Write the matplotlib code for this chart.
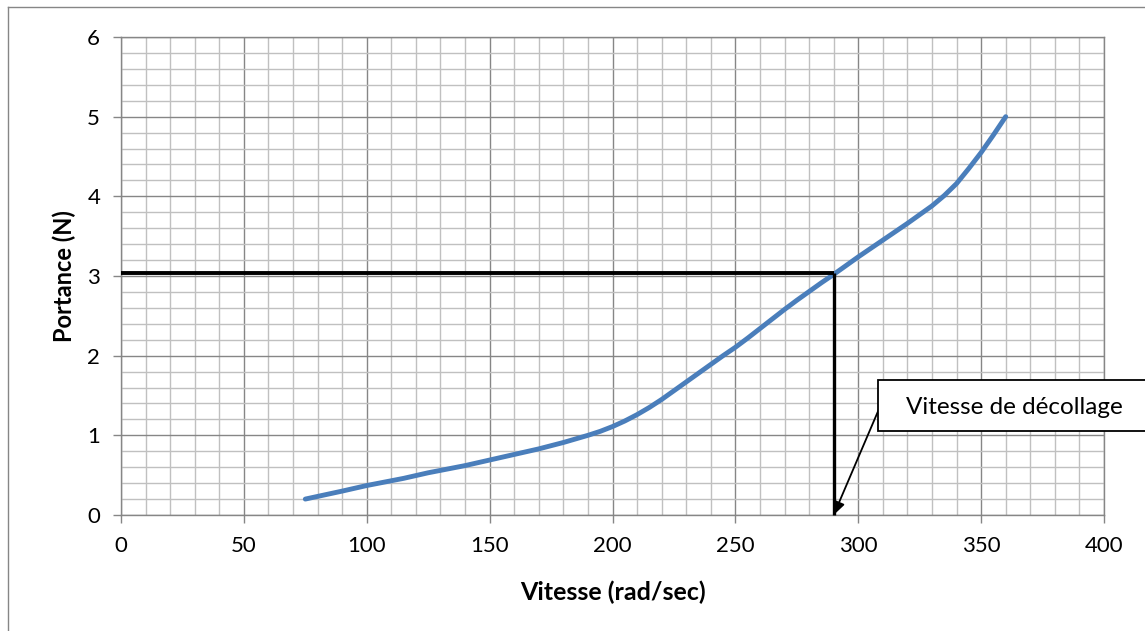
import matplotlib
matplotlib.use("Agg")
import matplotlib.pyplot as plt
from matplotlib.ticker import MultipleLocator
from matplotlib.lines import Line2D
from matplotlib.patches import Rectangle

plt.rcParams['font.family'] = ['Lato', 'DejaVu Sans']

# Data
vitesse = [75, 90, 100, 115, 125, 140, 150, 160, 170, 180, 190, 195, 200, 205, 210,
           215, 220, 225, 230, 235, 240, 245, 250, 255, 260, 265, 270, 275, 280, 285,
           290, 295, 300, 310, 320, 325, 330, 335, 340, 345, 350, 355, 360]
portance = [0.20, 0.30, 0.37, 0.46, 0.53, 0.62, 0.69, 0.76, 0.83, 0.91, 1.00, 1.05,
            1.11, 1.18, 1.26, 1.35, 1.45, 1.56, 1.67, 1.78, 1.89, 2.00, 2.105, 2.22,
            2.34, 2.46, 2.58, 2.695, 2.805, 2.915, 3.02, 3.13, 3.24, 3.45, 3.66, 3.77,
            3.88, 4.01, 4.16, 4.35, 4.55, 4.77, 5.00]
takeoff_speed = 290
takeoff_lift = 3.04
annotation_text = "Vitesse de décollage"
x_label = "Vitesse (rad/sec)"
y_label = "Portance (N)"

W, H = 1145, 631
fig = plt.figure(figsize=(W / 100, H / 100), dpi=100)
ax = fig.add_axes([121 / W, 116 / H, 983 / W, 478 / H])

ax.set_xlim(0, 400)
ax.set_ylim(0, 6)
ax.xaxis.set_major_locator(MultipleLocator(50))
ax.xaxis.set_minor_locator(MultipleLocator(10))
ax.yaxis.set_major_locator(MultipleLocator(1))
ax.yaxis.set_minor_locator(MultipleLocator(0.2))

ax.grid(which='minor', color='#c0c0c0', linewidth=1.0)
ax.grid(which='major', color='#868686', linewidth=1.0)
ax.set_axisbelow(True)
for s in ax.spines.values():
    s.set_color('#868686')
    s.set_linewidth(1.0)

ax.tick_params(which='major', direction='out', length=6, width=1, color='#868686',
               labelsize=16, pad=9)
ax.tick_params(which='minor', length=0)

ax.plot(vitesse, portance, color='#4a7ebb', linewidth=3.5, solid_capstyle='round',
        solid_joinstyle='round', zorder=3)

ax.plot([0, takeoff_speed], [takeoff_lift, takeoff_lift], color='black', linewidth=2.8,
        solid_capstyle='butt', zorder=4, clip_on=False)
ax.plot([takeoff_speed, takeoff_speed], [takeoff_lift, 0], color='black', linewidth=2.4,
        solid_capstyle='butt', zorder=4, clip_on=False)

ax.set_xlabel(x_label, fontsize=18, fontweight='bold', labelpad=18)
ax.set_ylabel(y_label, fontsize=17, fontweight='bold', labelpad=8)

# annotation box
box = Rectangle((878 / W, 1 - 431 / H), 300 / W, 51 / H, transform=fig.transFigure,
                facecolor='white', edgecolor='black', linewidth=1.3, zorder=5)
fig.patches.append(box)
fig.text(1014 / W, 1 - 407 / H, annotation_text, fontsize=17.5, ha='center',
         va='center', zorder=6)
ax.annotate('', xy=(takeoff_speed, 0), xycoords='data',
            xytext=(879 / W, 1 - 409 / H), textcoords='figure fraction',
            arrowprops=dict(arrowstyle='-|>,head_length=0.8,head_width=0.35',
                            color='black', lw=1.3, shrinkA=0, shrinkB=0),
            zorder=5, annotation_clip=False)

# outer chart border
fig.add_artist(Line2D([8 / W, 8 / W], [0, 1 - 7 / H], transform=fig.transFigure,
                      color='#868686', linewidth=1.0))
fig.add_artist(Line2D([8 / W, 1], [1 - 7 / H, 1 - 7 / H], transform=fig.transFigure,
                      color='#868686', linewidth=1.0))

fig.savefig('out.png', dpi=100, facecolor='white')
